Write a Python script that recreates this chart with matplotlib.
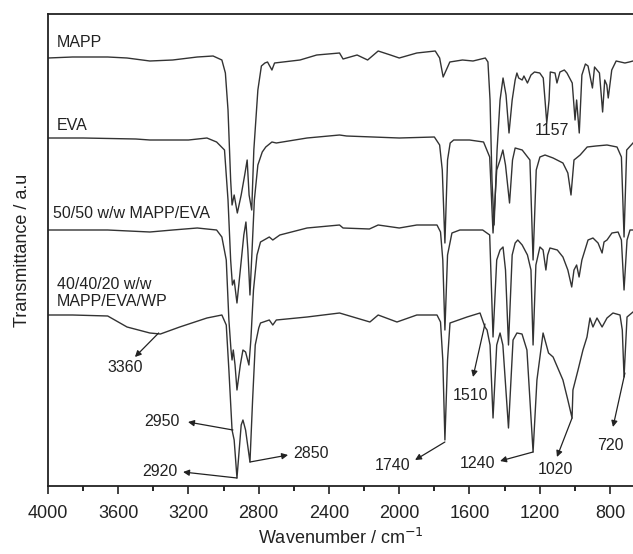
import numpy as np
import matplotlib
matplotlib.use('Agg')
import matplotlib.pyplot as plt

plt.rcParams['font.family'] = ['Liberation Sans', 'DejaVu Sans']

# spectra: wavenumber (cm-1) and transmittance (a.u., stacked)
mapp_wn = [4000, 3860, 3660, 3550, 3420, 3290, 3150, 3060, 3010, 2990, 2975, 2960, 2952, 2940, 2922, 2900,
           2880, 2866, 2855, 2840, 2828, 2805, 2785, 2765, 2750, 2725, 2710, 2565, 2470, 2340, 2320, 2240,
           2180, 2120, 2050, 2000, 1900, 1795, 1770, 1750, 1712, 1640, 1580, 1510, 1495, 1483, 1472, 1460,
           1443, 1426, 1409, 1392, 1375, 1357, 1340, 1330, 1320, 1300, 1290, 1270, 1250, 1230, 1200, 1180,
           1170, 1160, 1147, 1140, 1113, 1102, 1085, 1060, 1045, 1015, 999, 990, 975, 960, 940, 925,
           900, 888, 860, 842, 830, 818, 810, 790, 765, 740, 715, 690, 669]
mapp_t = [4.28, 4.29, 4.29, 4.28, 4.25, 4.26, 4.29, 4.30, 4.26, 4.13, 3.76, 3.06, 2.81, 2.91, 2.73, 2.91,
          3.11, 3.26, 2.91, 2.76, 3.36, 3.96, 4.20, 4.23, 4.24, 4.16, 4.23, 4.26, 4.31, 4.33, 4.27, 4.31,
          4.26, 4.35, 4.31, 4.28, 4.33, 4.35, 4.28, 4.09, 4.24, 4.26, 4.25, 4.28, 4.24, 3.86, 3.06, 2.61,
          3.36, 3.86, 4.08, 3.91, 3.53, 3.86, 4.06, 4.13, 4.08, 4.06, 4.10, 4.03, 4.11, 4.14, 4.13, 4.08,
          3.86, 3.63, 3.86, 4.14, 4.13, 4.03, 4.14, 4.16, 4.13, 4.03, 3.66, 3.86, 3.53, 4.11, 4.22, 4.20,
          3.98, 4.19, 4.13, 3.74, 4.06, 4.01, 3.88, 4.16, 4.25, 4.24, 4.23, 4.24, 4.25]

eva_wn = [4000, 3800, 3500, 3420, 3200, 3095, 3040, 2995, 2975, 2960, 2950, 2940, 2924, 2905, 2885, 2873,
          2862, 2850, 2838, 2825, 2805, 2780, 2760, 2725, 2700, 2525, 2340, 2300, 2000, 1800, 1770, 1755,
          1740, 1725, 1710, 1690, 1600, 1520, 1485, 1466, 1445, 1426, 1410, 1395, 1372, 1355, 1340, 1300,
          1256, 1238, 1220, 1199, 1170, 1124, 1068, 1040, 1022, 1005, 970, 930, 880, 817, 760, 735,
          720, 705, 669]
eva_t = [3.48, 3.48, 3.47, 3.46, 3.46, 3.48, 3.44, 3.36, 2.86, 2.26, 2.01, 2.06, 1.83, 2.16, 2.51, 2.64,
         2.36, 1.91, 2.36, 2.86, 3.21, 3.34, 3.39, 3.44, 3.43, 3.48, 3.51, 3.50, 3.48, 3.49, 3.41, 3.16,
         2.43, 3.26, 3.43, 3.46, 3.46, 3.44, 3.29, 2.53, 3.16, 3.26, 3.36, 3.21, 2.83, 3.26, 3.38, 3.36,
         3.26, 2.26, 3.16, 3.29, 3.31, 3.28, 3.23, 3.13, 2.91, 3.26, 3.31, 3.39, 3.40, 3.41, 3.39, 3.29,
         2.49, 3.36, 3.43]

blend_wn = [4000, 3850, 3660, 3420, 3290, 3150, 3040, 3010, 2985, 2970, 2958, 2952, 2945, 2935, 2924, 2905,
            2890, 2875, 2856, 2845, 2830, 2810, 2790, 2740, 2720, 2680, 2525, 2340, 2320, 2170, 2120, 2000,
            1900, 1785, 1765, 1752, 1740, 1725, 1700, 1655, 1525, 1485, 1466, 1445, 1426, 1409, 1395, 1378,
            1357, 1340, 1325, 1300, 1270, 1250, 1238, 1222, 1199, 1181, 1165, 1155, 1142, 1100, 1068, 1040,
            1018, 1005, 990, 976, 960, 925, 897, 868, 845, 834, 817, 789, 754, 735, 720, 703, 686, 669]
blend_t = [2.56, 2.56, 2.56, 2.54, 2.56, 2.58, 2.56, 2.49, 2.26, 1.66, 1.36, 1.26, 1.36, 1.21, 0.96, 1.21,
           1.36, 1.34, 1.21, 1.46, 1.96, 2.31, 2.44, 2.49, 2.46, 2.51, 2.58, 2.61, 2.58, 2.57, 2.61, 2.58,
           2.61, 2.61, 2.54, 2.26, 1.56, 2.31, 2.53, 2.56, 2.56, 2.51, 1.49, 2.26, 2.36, 2.39, 2.16, 1.41,
           2.31, 2.43, 2.46, 2.41, 2.31, 2.16, 1.41, 2.21, 2.39, 2.36, 2.16, 2.31, 2.38, 2.36, 2.29, 2.16,
           1.99, 2.16, 2.21, 2.09, 2.26, 2.46, 2.48, 2.43, 2.33, 2.44, 2.46, 2.53, 2.54, 2.46, 1.96, 2.46,
           2.56, 2.56]

wp_wn = [4000, 3860, 3660, 3550, 3420, 3360, 3250, 3095, 3010, 2985, 2970, 2952, 2940, 2924, 2900, 2890,
         2875, 2850, 2835, 2820, 2800, 2790, 2740, 2720, 2700, 2525, 2340, 2167, 2120, 2013, 1900, 1785,
         1765, 1752, 1740, 1725, 1711, 1614, 1540, 1512, 1500, 1483, 1466, 1445, 1426, 1410, 1378, 1352,
         1330, 1301, 1273, 1238, 1216, 1181, 1150, 1124, 1068, 1040, 1016, 1011, 982, 954, 931, 914,
         897, 874, 845, 817, 783, 743, 730, 720, 703, 669]
wp_t = [1.71, 1.71, 1.70, 1.59, 1.53, 1.52, 1.59, 1.68, 1.71, 1.61, 1.16, 0.56, 0.46, 0.08, 0.61, 0.66,
        0.56, 0.24, 0.86, 1.41, 1.58, 1.63, 1.66, 1.61, 1.66, 1.69, 1.73, 1.64, 1.71, 1.64, 1.71, 1.71,
        1.64, 1.26, 0.46, 1.26, 1.63, 1.69, 1.73, 1.59, 1.56, 1.41, 0.68, 1.41, 1.53, 1.41, 0.58, 1.46,
        1.53, 1.52, 1.36, 0.34, 1.06, 1.53, 1.33, 1.29, 1.06, 0.86, 0.68, 0.96, 1.16, 1.36, 1.49, 1.68,
        1.59, 1.68, 1.59, 1.68, 1.73, 1.71, 1.56, 1.09, 1.69, 1.74]

spectra = [(mapp_wn, mapp_t), (eva_wn, eva_t), (blend_wn, blend_t), (wp_wn, wp_t)]
xticks = [4000, 3600, 3200, 2800, 2400, 2000, 1600, 1200, 800]

fig = plt.figure(figsize=(6.33, 5.54), dpi=100)
ax = fig.add_axes([48/633, 68/554, 585/633, 472/554])

for wn, t in spectra:
    ax.plot(wn, t, color='#333333', lw=1.0)

ax.set_xlim(4000, 669)
ax.set_ylim(0, 4.72)
ax.set_xticks(xticks)
ax.set_xticks(np.arange(3800, 600, -400), minor=True)
ax.set_yticks([])
ax.tick_params(axis='x', which='major', direction='out', length=6, width=1.2, labelsize=13, pad=8, colors='#222222')
ax.tick_params(axis='x', which='minor', direction='out', length=3.5, width=1.2)
for s in ['left', 'top', 'bottom']:
    ax.spines[s].set_linewidth(1.3)
    ax.spines[s].set_color('#222222')
ax.spines['right'].set_visible(False)

ax.set_xlabel('Wavenumber / cm$^{-1}$', fontsize=13, color='#222222', labelpad=4)
ax.set_ylabel('Transmittance / a.u', fontsize=13, color='#222222', labelpad=12)

fs = 11.5
ax.text(3949, 4.43, 'MAPP', fontsize=fs, va='center', ha='left', color='#222222')
ax.text(3949, 3.60, 'EVA', fontsize=fs, va='center', ha='left', color='#222222')
ax.text(3972, 2.72, '50/50 w/w MAPP/EVA', fontsize=fs, va='center', ha='left', color='#222222')
ax.text(3949, 1.93, '40/40/20 w/w\nMAPP/EVA/WP', fontsize=fs, va='center', ha='left', color='#222222')
ax.text(1130, 3.55, '1157', fontsize=fs, va='center', ha='center', color='#222222')

# (label, label position, arrow tail on curve, arrow head)
notes = [('3360', (3562, 1.18), (3370, 1.53), (3505, 1.29)),
         ('2950', (3351, 0.64), (2947, 0.56), (3203, 0.64)),
         ('2920', (3362, 0.14), (2924, 0.08), (3231, 0.14)),
         ('2850', (2502, 0.32), (2850, 0.24), (2633, 0.31)),
         ('1740', (2036, 0.20), (1740, 0.44), (1910, 0.26)),
         ('1510', (1597, 0.90), (1512, 1.62), (1580, 1.09)),
         ('1240', (1557, 0.22), (1238, 0.34), (1426, 0.25)),
         ('1020', (1108, 0.17), (1016, 0.68), (1102, 0.29)),
         ('720', (800, 0.40), (715, 1.13), (783, 0.59))]
for lab, lp, tail, head in notes:
    ax.text(lp[0], lp[1], lab, fontsize=fs, va='center', ha='center', color='#222222')
    ax.annotate('', xy=head, xytext=tail,
                arrowprops=dict(arrowstyle='-|>', color='#222222', lw=0.9, mutation_scale=9,
                                shrinkA=0, shrinkB=0))

fig.savefig('out.png', dpi=100)
